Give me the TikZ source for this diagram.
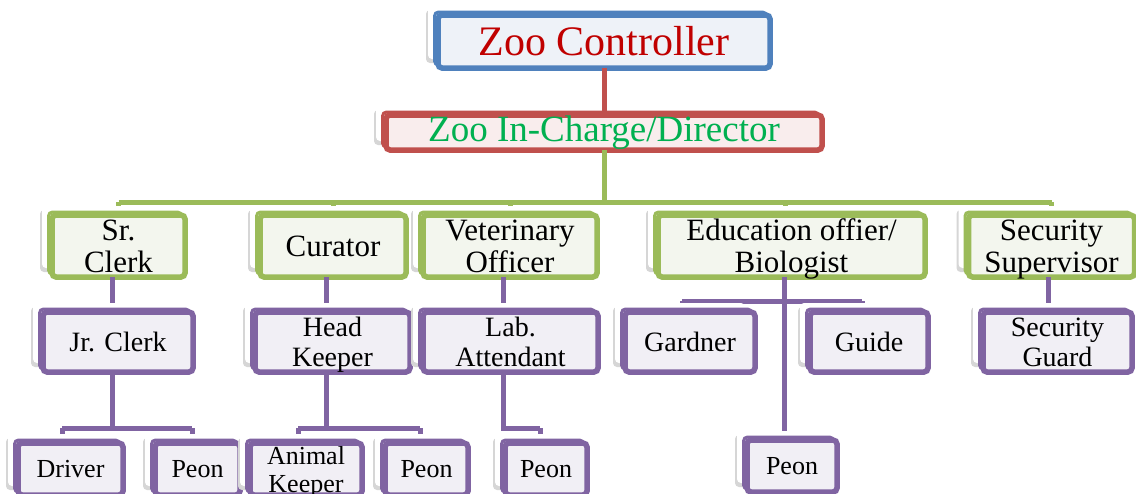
\documentclass[tikz,border=0pt]{standalone}
\usepackage{fontspec}
\setmainfont{Liberation Serif}
\usetikzlibrary{shadows}
\definecolor{cblue}{HTML}{4F81BD}
\definecolor{cbluef}{HTML}{EEF2F8}
\definecolor{cred}{HTML}{C0504D}
\definecolor{credf}{HTML}{F9EDED}
\definecolor{ctxtred}{HTML}{C00000}
\definecolor{ctxtgreen}{HTML}{00B050}
\definecolor{cgreen}{HTML}{9BBB59}
\definecolor{cgreenf}{HTML}{F3F6EE}
\definecolor{cpurple}{HTML}{8064A2}
\definecolor{cpurplef}{HTML}{F1EFF5}
\begin{document}
\begin{tikzpicture}[x=1pt,y=-1pt,
  box/.style 2 args={rectangle, rounded corners=4pt, line width=5.5pt, inner sep=0pt, outer sep=0pt, align=center,
    draw=#1, fill=#2,
    general shadow={shadow xshift=-12pt, shadow yshift=5pt, fill=black!16, draw=none, rounded corners=8pt},
    general shadow={shadow xshift=-10pt, shadow yshift=9pt, fill=white, draw=none, rounded corners=8pt},
    general shadow={shadow xshift=-3.5pt, shadow yshift=3pt, fill=#2, draw=#1, line width=3pt}},
  ctrlbox/.style={box={cblue}{cbluef}, text=ctxtred, font=\fontsize{42}{44}\selectfont},
  dirbox/.style={box={cred}{credf}, text=ctxtgreen, font=\fontsize{37}{39}\selectfont},
  gbox/.style={box={cgreen}{cgreenf}, minimum height=62pt, text depth=-5pt, font=\fontsize{31}{32}\selectfont},
  pbox/.style={box={cpurple}{cpurplef}, minimum height=60pt, text depth=-5pt, font=\fontsize{28}{30.5}\selectfont},
  qbox/.style={box={cpurple}{cpurplef}, minimum height=52pt, text depth=-4pt, font=\fontsize{26}{28}\selectfont},
  redline/.style={draw=cred, line width=5pt},
  greenline/.style={draw=cgreen, line width=5pt},
  purpleline/.style={draw=cpurple, line width=5pt}]
\useasboundingbox (0,0) rectangle (1136,493);
\fill[white] (0,0) rectangle (1136,493);

% junction coordinates
\coordinate (gbar) at (0,202);
\coordinate (ebar) at (0,301);
\coordinate (pbar) at (0,428);

% top nodes
\node[ctrlbox, minimum width=332pt, minimum height=53pt] (ctrl) at (604,41.5) {Zoo Controller};
\node[dirbox, minimum width=436pt, minimum height=35pt] (dir) at (604,132.5) {Zoo In-Charge/Director};

% connectors
\draw[redline] (ctrl.south) -- (dir.north);
\coordinate (srclerkC) at (118.5,246);
\coordinate (curatorC) at (333,246);
\coordinate (vetC) at (510,246);
\coordinate (eduC) at (785,246);
\coordinate (secsupC) at (1051.5,246);
\draw[greenline] (dir.south) -- (dir.south |- gbar);
\draw[greenline] (srclerkC |- gbar) -- (secsupC |- gbar);
\foreach \n in {srclerkC,curatorC,vetC,eduC,secsupC} \draw[greenline] (\n |- gbar) -- (\n);

% level 2
\node[gbox, minimum width=133pt] (srclerk) at (srclerkC) {Sr.\\Clerk};
\node[gbox, minimum width=146pt] (curator) at (curatorC) {Curator};
\node[gbox, minimum width=174pt] (vet) at (vetC) {Veterinary\\Officer};
\node[gbox, minimum width=267pt] (edu) at (791.5,246) {Education offier/\\Biologist};
\node[gbox, minimum width=166pt] (secsup) at (secsupC) {Security\\Supervisor};

% level 2 -> 3 connectors
\coordinate (jrclerkC) at (112,342);
\coordinate (headkC) at (326,342);
\coordinate (labC) at (503,342);
\coordinate (gardC) at (682,342);
\coordinate (guideC) at (862,342);
\coordinate (secgC) at (1048,342);
\coordinate (peonDC) at (784,470);
\draw[purpleline] (srclerk.south -| jrclerkC) -- (jrclerkC);
\draw[purpleline] (curator.south -| headkC) -- (headkC);
\draw[purpleline] (vet.south -| labC) -- (labC);
\draw[purpleline] (secsup.south -| secgC) -- (secgC);
\draw[purpleline] (edu.south -| peonDC) -- (peonDC);
\draw[purpleline] (gardC |- ebar) -- (guideC |- ebar);
\draw[purpleline] (gardC |- ebar) -- (gardC);
\draw[purpleline] (guideC |- ebar) -- (guideC);

% level 3 -> 4 connectors
\coordinate (driverC) at (62,469);
\coordinate (peonAC) at (192,469);
\coordinate (animalC) at (298,469);
\coordinate (peonBC) at (420,469);
\coordinate (peonCC) at (540,469);
\draw[purpleline] (jrclerkC) -- (jrclerkC |- pbar);
\draw[purpleline] (driverC |- pbar) -- (peonAC |- pbar);
\draw[purpleline] (headkC) -- (headkC |- pbar);
\draw[purpleline] (animalC |- pbar) -- (peonBC |- pbar);
\draw[purpleline] (labC) -- (labC |- pbar) -- (peonCC |- pbar);
\foreach \n in {driverC,peonAC,animalC,peonBC,peonCC} \draw[purpleline] (\n |- pbar) -- (\n);

% level 3
\node[pbox, minimum width=150pt] (jrclerk) at (118,342) {Jr. Clerk};
\node[pbox, minimum width=155pt] (headk) at (332.5,342) {Head\\Keeper};
\node[pbox, minimum width=175pt] (lab) at (510.5,342) {Lab.\\Attendant};
\node[pbox, minimum width=130pt] (gard) at (690,342) {Gardner};
\node[pbox, minimum width=118pt] (guide) at (869,342) {Guide};
\node[pbox, minimum width=149pt] (secg) at (1057.5,342) {Security\\Guard};

% level 4
\node[qbox, minimum width=105pt] (driver) at (70.5,469) {Driver};
\node[qbox, minimum width=85pt] (peonA) at (197.5,469) {Peon};
\node[qbox, minimum width=112pt] (animal) at (306,469) {Animal\\Keeper};
\node[qbox, minimum width=83pt] (peonB) at (426.5,469) {Peon};
\node[qbox, minimum width=82pt] (peonC) at (546,469) {Peon};
\node[qbox, minimum width=90pt] (peonD) at (792,466) {Peon};
\end{tikzpicture}
\end{document}
